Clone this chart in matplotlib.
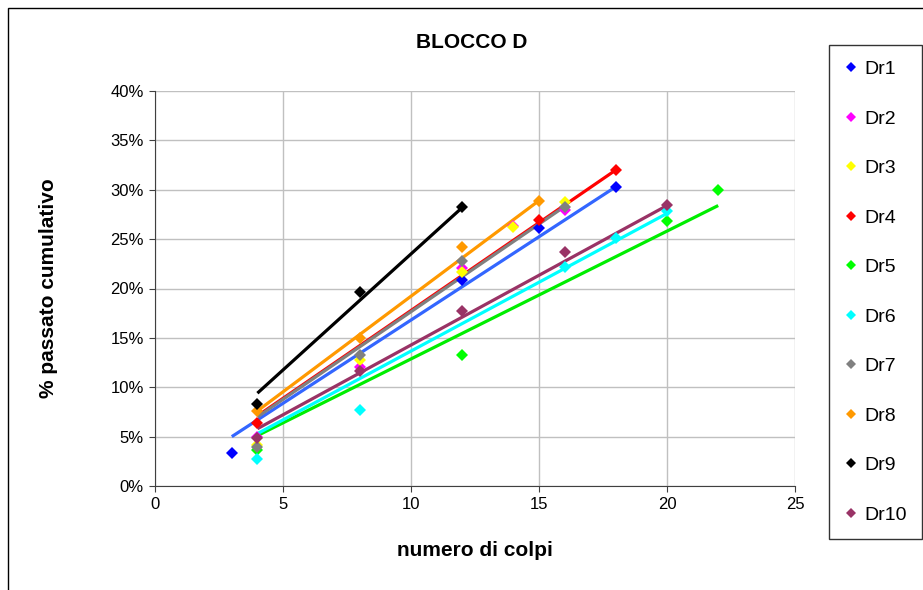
"""
BLOCCO D: % passato cumulativo vs numero di colpi, con linee di tendenza.
"""
import matplotlib

matplotlib.use("Agg")
import matplotlib.pyplot as plt
from matplotlib.patches import Rectangle
from matplotlib.ticker import FuncFormatter, MultipleLocator

plt.rcParams["font.family"] = ["Liberation Sans", "DejaVu Sans"]

# dati (x = numero di colpi, y = % passato cumulativo)
names = ["Dr1", "Dr2", "Dr3", "Dr4", "Dr5", "Dr6", "Dr7", "Dr8", "Dr9", "Dr10"]
colors = ["#0000FF", "#FF00FF", "#FFFF00", "#FF0000", "#00FF00",
          "#00FFFF", "#808080", "#FF9900", "#000000", "#993366"]

dr1_x = [3, 12, 15, 18]
dr1_y = [3.3, 20.9, 26.1, 30.3]
dr2_x = [4, 8, 12, 14, 16]
dr2_y = [5.0, 12.1, 22.1, 26.3, 28.0]
dr3_x = [4, 8, 12, 14, 16]
dr3_y = [4.2, 12.8, 21.7, 26.2, 28.8]
dr4_x = [4, 15, 18]
dr4_y = [6.35, 26.9, 32.0]
dr5_x = [4, 12, 20, 22]
dr5_y = [3.6, 13.3, 26.8, 30.0]
dr6_x = [4, 8, 16, 18, 20]
dr6_y = [2.7, 7.7, 22.2, 25.1, 27.8]
dr7_x = [4, 8, 12, 16]
dr7_y = [4.0, 13.3, 22.8, 28.3]
dr8_x = [4, 8, 12, 15]
dr8_y = [7.6, 15.0, 24.2, 28.9]
dr9_x = [4, 8, 12]
dr9_y = [8.3, 19.6, 28.3]
dr10_x = [4, 8, 12, 16, 20]
dr10_y = [4.9, 11.6, 17.75, 23.7, 28.5]

xs = [dr1_x, dr2_x, dr3_x, dr4_x, dr5_x, dr6_x, dr7_x, dr8_x, dr9_x, dr10_x]
ys = [dr1_y, dr2_y, dr3_y, dr4_y, dr5_y, dr6_y, dr7_y, dr8_y, dr9_y, dr10_y]

# linee di tendenza: valori letti agli estremi (None = non visibile)
trend_x0 = [3, None, None, 4, 4, 4, 4, 4, 4, 4]
trend_x1 = [18, None, None, 18, 22, 20, 16, 15, 12, 20]
trend_y0 = [5.0, None, None, 7.1, 5.1, 5.3, 7.0, 7.6, 9.4, 5.8]
trend_y1 = [30.3, None, None, 32.0, 28.4, 27.6, 28.3, 28.9, 28.2, 28.4]
trend_colors = ["#3366FF", None, None, "#FF0000", "#00EE00",
                "#00FFFF", "#808080", "#FF9900", "#000000", "#993366"]

W, H = 923, 590
fig = plt.figure(figsize=(W / 100, H / 100), dpi=100)
fig.patch.set_facecolor("white")

# bordo esterno dell'area grafico (destra e basso fuori immagine)
fig.patches.append(Rectangle((8 / W, -0.1), 1.2, 1 - 8 / H + 0.1,
                             transform=fig.transFigure, fill=False,
                             edgecolor="#000000", linewidth=1.0))

ax = fig.add_axes([155 / W, 1 - 486 / H, (795 - 155) / W, (486 - 91) / H])

for i in range(len(names)):
    if trend_x0[i] is not None:
        ax.plot([trend_x0[i], trend_x1[i]], [trend_y0[i], trend_y1[i]],
                color=trend_colors[i], linewidth=2.3, solid_capstyle="butt",
                zorder=2)

for i, name in enumerate(names):
    ax.plot(xs[i], ys[i], linestyle="none", marker="D", markersize=6.3,
            color=colors[i], markeredgewidth=0, label=name, zorder=3)

ax.set_xlim(0, 25)
ax.set_ylim(0, 40)
ax.xaxis.set_major_locator(MultipleLocator(5))
ax.yaxis.set_major_locator(MultipleLocator(5))
ax.yaxis.set_major_formatter(FuncFormatter(lambda v, p: f"{v:.0f}%"))
ax.grid(True, color="#C0C0C0", linewidth=1.0)
ax.set_axisbelow(True)
for s in ("top", "right"):
    ax.spines[s].set_visible(False)
for s in ("left", "bottom"):
    ax.spines[s].set_color("#404040")
ax.tick_params(axis="both", labelsize=12, length=4, color="#404040",
               direction="out", pad=4)

ax.set_xlabel("numero di colpi", fontsize=15, fontweight="bold", labelpad=21)
ax.set_ylabel("% passato cumulativo", fontsize=15, fontweight="bold",
              labelpad=38)
fig.text(472 / W, 1 - 42 / H, "BLOCCO D", fontsize=15, fontweight="bold",
         ha="center", va="center")

leg = fig.legend(loc="upper left", bbox_to_anchor=(829 / W, 1 - 45 / H),
                 fontsize=14, frameon=True, fancybox=False, borderpad=0.8,
                 labelspacing=1.64, handlelength=0.7, handletextpad=0.3,
                 markerscale=0.85, borderaxespad=0)
leg.get_frame().set_edgecolor("#000000")
leg.get_frame().set_linewidth(1.0)

fig.savefig("out.png", dpi=100)
